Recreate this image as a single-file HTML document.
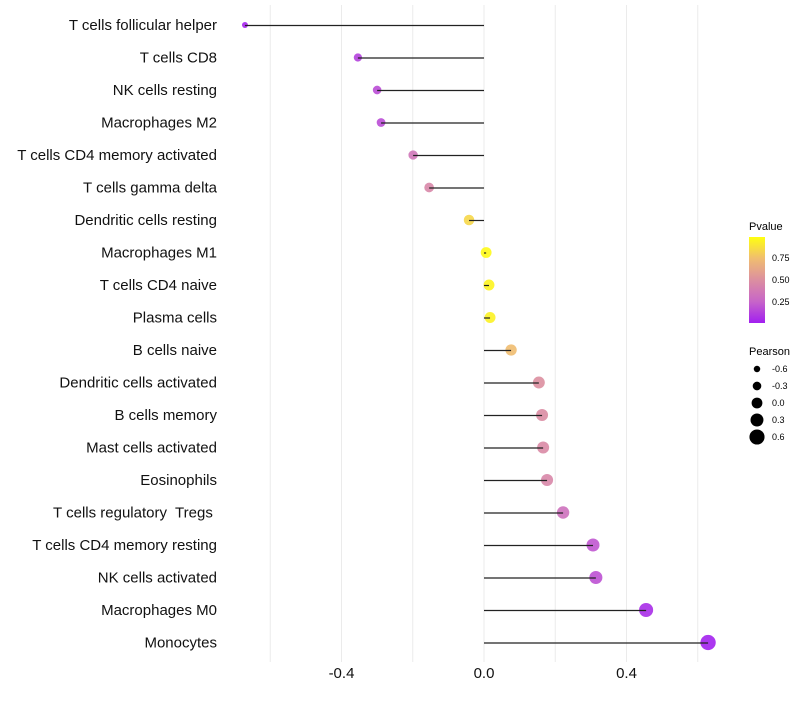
<!DOCTYPE html>
<html><head><meta charset="utf-8"><style>
body{margin:0;background:#fff;font-family:"Liberation Sans",sans-serif}
text{white-space:pre}
</style></head><body>
<svg id="chart" width="800" height="700" xmlns="http://www.w3.org/2000/svg">
<defs><linearGradient id="pg" x1="0" y1="1" x2="0" y2="0">
<stop offset="0" stop-color="#a21ff0"/><stop offset="0.25" stop-color="#c765c8"/><stop offset="0.5" stop-color="#dc8fa0"/><stop offset="0.75" stop-color="#f0bd70"/><stop offset="1" stop-color="#ffff10"/></linearGradient></defs>
<g id="grid"></g><g id="marks"></g><g id="labels"></g>
<g>
<text x="749" y="230" font-size="11">Pvalue</text>
<rect x="749" y="237" width="16" height="86" fill="url(#pg)"/>
<text x="772" y="261" font-size="9">0.75</text>
<text x="772" y="283" font-size="9">0.50</text>
<text x="772" y="305" font-size="9">0.25</text>
</g>
<g id="sizeleg">
<text x="749" y="355" font-size="11">Pearson</text>
</g>
</svg>
<script>
const cells=["T cells follicular helper","T cells CD8","NK cells resting","Macrophages M2","T cells CD4 memory activated","T cells gamma delta","Dendritic cells resting","Macrophages M1","T cells CD4 naive","Plasma cells","B cells naive","Dendritic cells activated","B cells memory","Mast cells activated","Eosinophils","T cells regulatory  Tregs ","T cells CD4 memory resting","NK cells activated","Macrophages M0","Monocytes"];
const pearson=[-0.671,-0.354,-0.300,-0.289,-0.199,-0.154,-0.042,0.006,0.014,0.017,0.076,0.154,0.163,0.166,0.177,0.222,0.306,0.314,0.455,0.629];
const pvalue=[0.02,0.12,0.16,0.16,0.35,0.45,0.85,0.98,0.96,0.95,0.75,0.5,0.48,0.47,0.45,0.32,0.2,0.18,0.05,0.01];
const xTicks=[-0.4,0.0,0.4];
const gridVals=[-0.6,-0.4,-0.2,0,0.2,0.4,0.6];
const legVals=[-0.6,-0.3,0.0,0.3,0.6];
const NS="http://www.w3.org/2000/svg";
const x=v=>484+v*356.25, y=i=>25+i*32.5, r=v=>Math.max(2,5.4+3.6*v);
const stops=[[0,[162,31,240]],[0.25,[199,101,200]],[0.5,[220,143,160]],[0.75,[240,189,112]],[1,[255,255,16]]];
function col(p){for(let k=1;k<stops.length;k++){if(p<=stops[k][0]){const a=stops[k-1],b=stops[k],t=(p-a[0])/(b[0]-a[0]);return 'rgb('+a[1].map((c,j)=>Math.round(c+(b[1][j]-c)*t)).join(',')+')';}}return 'rgb(255,255,16)';}
function mk(t,at,p){const e=document.createElementNS(NS,t);for(const k in at)e.setAttribute(k,at[k]);p.appendChild(e);return e;}
const G=document.getElementById('grid'),M=document.getElementById('marks'),L=document.getElementById('labels');
gridVals.forEach(v=>{const e=mk('line',{x1:x(v),x2:x(v),y1:5,y2:662,stroke:'#ebebeb','stroke-width':1},G);

});
xTicks.forEach(v=>{const t=mk('text',{x:x(v),y:678,'font-size':15,'text-anchor':'middle',fill:'#111'},L);t.textContent=v.toFixed(1);

});
cells.forEach((c,i)=>{
const t=mk('text',{x:217,y:y(i)+5,'font-size':15,'text-anchor':'end',fill:'#111'},L);t.textContent=c;


const d=mk('circle',{cx:x(pearson[i]),cy:y(i),r:r(pearson[i]),fill:col(pvalue[i]),'fill-opacity':0.9},M);


const s=mk('line',{x1:x(0),x2:x(pearson[i]),y1:y(i)+0.5,y2:y(i)+0.5,stroke:'#222','stroke-width':1.2},M);


});
const SL=document.getElementById('sizeleg');
legVals.forEach((v,k)=>{const cy=369+k*17;
const c=mk('circle',{cx:757,cy:cy,r:r(v),fill:'#000'},SL);


const t=mk('text',{x:772,y:cy+3,'font-size':9},SL);t.textContent=v.toFixed(1);

});
</script>
</body></html>
